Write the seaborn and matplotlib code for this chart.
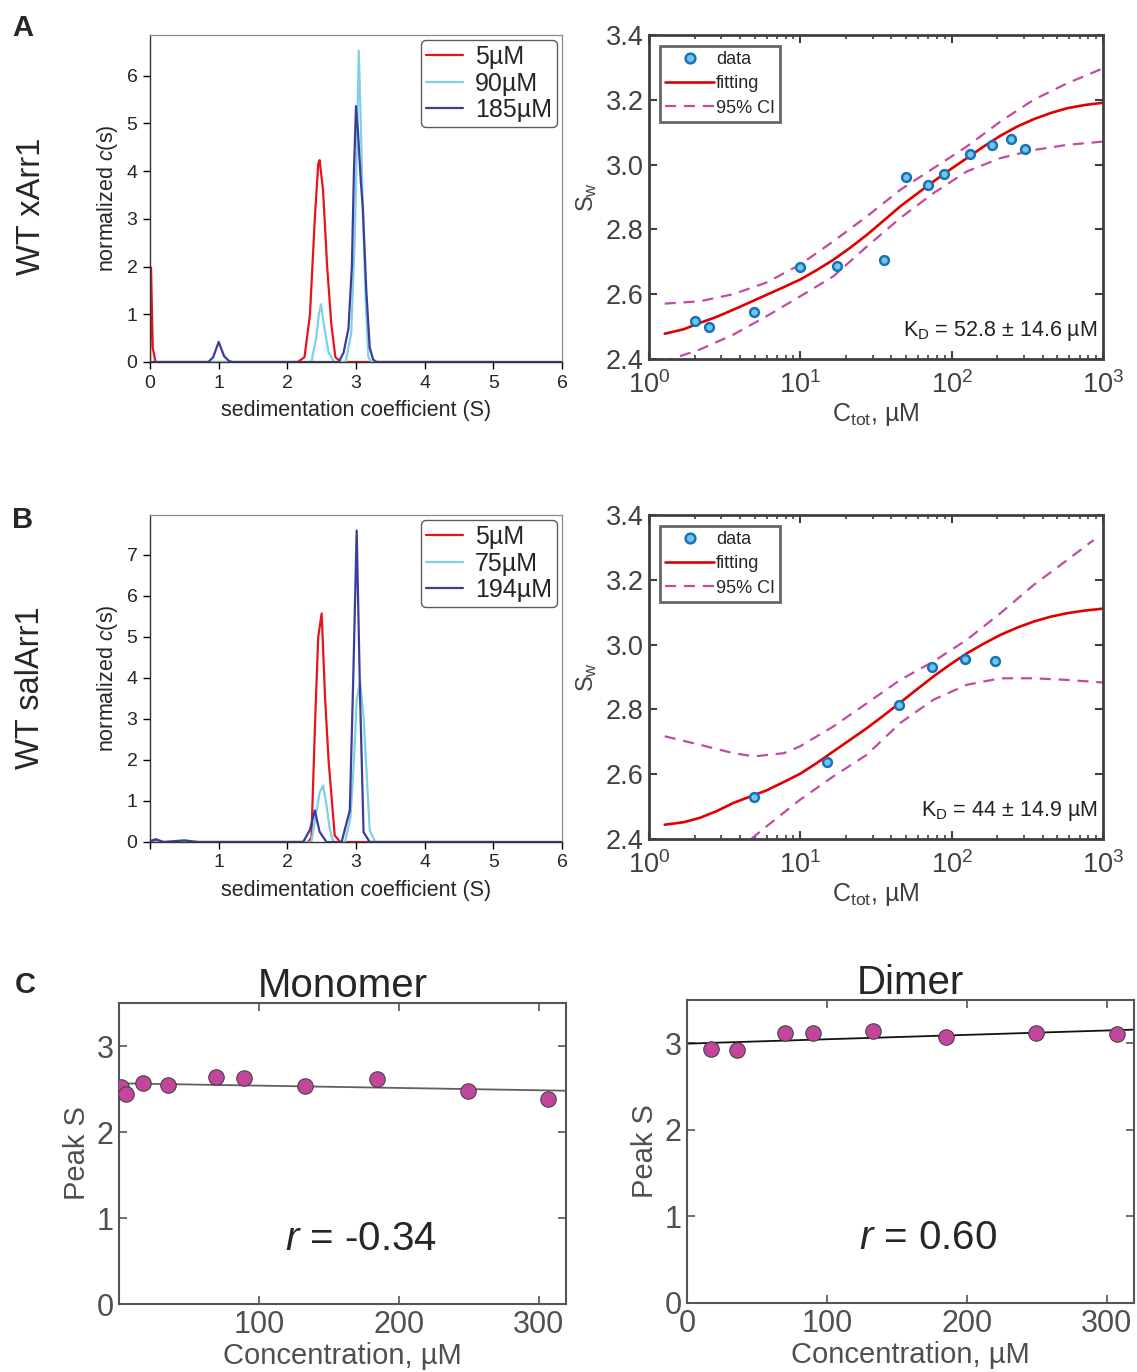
import matplotlib; matplotlib.use("Agg")
import matplotlib.pyplot as plt
from matplotlib import font_manager
import pandas as pd
import seaborn as sns
import numpy as np

# ---- panel A, c(s) distributions (xArr1) ----
a_s_5 = [0.0, 0.015, 0.04, 0.08, 2.15, 2.25, 2.33, 2.40, 2.45, 2.47, 2.52, 2.58, 2.64, 2.70, 2.78, 5.0]
a_c_5 = [0.0, 1.98, 0.3, 0.0, 0.0, 0.1, 1.0, 3.0, 4.15, 4.23, 3.6, 2.0, 0.8, 0.1, 0.0, 0.0]
a_s_90 = [0.0, 2.35, 2.42, 2.46, 2.49, 2.53, 2.60, 2.68, 2.85, 2.93, 2.98, 3.02, 3.04, 3.07, 3.10, 3.14, 3.18, 3.22, 6.0]
a_c_90 = [0.0, 0.0, 0.5, 1.0, 1.21, 0.8, 0.2, 0.0, 0.0, 0.6, 2.5, 5.0, 6.52, 5.0, 3.2, 1.3, 0.1, 0.0, 0.0]
a_s_185 = [0.0, 0.85, 0.92, 1.0, 1.08, 1.15, 1.2, 2.75, 2.82, 2.89, 2.94, 2.97, 3.0, 3.03, 3.07, 3.1, 3.15, 3.2, 3.25, 3.3, 6.0]
a_c_185 = [0.0, 0.0, 0.1, 0.42, 0.12, 0.02, 0.0, 0.0, 0.2, 0.7, 2.0, 4.0, 5.36, 4.8, 3.8, 3.2, 1.5, 0.3, 0.05, 0.0, 0.0]
a_labels = ["5\u00b5M", "90\u00b5M", "185\u00b5M"]

# ---- panel B, c(s) distributions (salArr1) ----
b_s_5 = [0.0, 0.05, 0.1, 2.3, 2.35, 2.41, 2.45, 2.5, 2.55, 2.6, 2.69, 2.77, 5.0]
b_c_5 = [0.02, 0.05, 0.0, 0.0, 0.1, 3.2, 5.0, 5.57, 3.5, 2.0, 0.16, 0.0, 0.0]
b_s_75 = [0.0, 2.35, 2.42, 2.47, 2.52, 2.57, 2.62, 2.67, 2.84, 2.92, 2.97, 3.01, 3.06, 3.11, 3.2, 3.28, 6.0]
b_c_75 = [0.0, 0.0, 0.7, 1.2, 1.38, 0.9, 0.3, 0.0, 0.0, 0.6, 2.0, 3.46, 3.9, 3.05, 0.28, 0.0, 0.0]
b_s_194 = [0.0, 0.08, 0.2, 0.5, 0.7, 2.23, 2.33, 2.4, 2.47, 2.57, 2.79, 2.91, 2.96, 3.01, 3.06, 3.11, 3.2, 6.0]
b_c_194 = [0.0, 0.07, 0.0, 0.04, 0.0, 0.0, 0.3, 0.77, 0.25, 0.0, 0.0, 0.77, 4.0, 7.59, 3.5, 0.24, 0.0, 0.0]
b_labels = ["5\u00b5M", "75\u00b5M", "194\u00b5M"]

# ---- panel A right, weight-average S vs concentration ----
a_conc = [2.0, 2.48, 4.96, 9.95, 17.4, 35.8, 49.9, 69.7, 89.4, 132, 185, 248, 304]
a_sw = [2.518, 2.498, 2.544, 2.683, 2.688, 2.706, 2.963, 2.936, 2.970, 3.032, 3.059, 3.079, 3.047]
a_fit_x = [1.27, 1.7, 2.16, 2.8, 3.6, 4.6, 5.98, 7.7, 9.95, 12.8, 16.5, 21.3, 27.5, 35.5, 45.7, 59, 75.9,
           98, 126, 163, 210, 270, 348, 450, 580, 760, 1000]
a_fit_y = [2.478, 2.492, 2.511, 2.530, 2.552, 2.574, 2.598, 2.621, 2.645, 2.674, 2.706, 2.743, 2.783,
           2.827, 2.871, 2.910, 2.948, 2.985, 3.020, 3.056, 3.089, 3.117, 3.140, 3.159, 3.174, 3.184, 3.191]
a_ciu_x = [1.27, 2.16, 3.6, 5.98, 9.95, 16.5, 27.5, 45.7, 75.9, 126, 210, 348, 580, 1000]
a_ciu_y = [2.571, 2.578, 2.600, 2.636, 2.691, 2.763, 2.840, 2.922, 2.989, 3.056, 3.133, 3.200, 3.251, 3.297]
a_cil_x = [1.22, 1.37, 2.16, 3.6, 5.98, 9.95, 16.5, 27.5, 45.7, 75.9, 126, 210, 348, 580, 1000]
a_cil_y = [2.39, 2.398, 2.429, 2.475, 2.532, 2.593, 2.655, 2.747, 2.835, 2.912, 2.979, 3.020, 3.045, 3.061, 3.071]
a_kd = "52.8 \u00b1 14.6 \u00b5M"

# ---- panel B right ----
b_conc = [4.96, 14.9, 45.0, 74.5, 123, 193]
b_sw = [2.529, 2.637, 2.814, 2.931, 2.956, 2.950]
b_fit_x = [1.27, 1.7, 2.16, 2.8, 3.6, 4.6, 5.98, 7.7, 9.95, 12.8, 16.5, 21.3, 27.5, 35.5, 45.7, 59, 75.9,
           98, 126, 163, 210, 270, 348, 450, 580, 760, 1000]
b_fit_y = [2.444, 2.452, 2.465, 2.486, 2.511, 2.530, 2.550, 2.575, 2.601, 2.634, 2.670, 2.706, 2.742,
           2.781, 2.821, 2.862, 2.902, 2.939, 2.973, 3.003, 3.030, 3.052, 3.071, 3.086, 3.097, 3.105, 3.111]
b_ciu_x = [1.27, 2.16, 3.6, 4.96, 7.8, 9.95, 16.5, 27.5, 45.7, 75.9, 126, 210, 348, 580, 868]
b_ciu_y = [2.717, 2.691, 2.665, 2.655, 2.665, 2.686, 2.747, 2.819, 2.891, 2.948, 3.015, 3.097, 3.184, 3.261, 3.323]
b_cil_x = [4.73, 5.98, 9.95, 16.5, 27.5, 45.7, 75.9, 126, 210, 348, 580, 1000]
b_cil_y = [2.40, 2.439, 2.521, 2.593, 2.660, 2.758, 2.830, 2.876, 2.896, 2.896, 2.891, 2.883]
b_kd = "44 \u00b1 14.9 \u00b5M"

# ---- panel C, peak positions ----
mono_conc = [1.4, 5.0, 17.4, 35.2, 69.5, 89.5, 132.6, 184.5, 249.3, 306.9]
mono_peak = [2.52, 2.44, 2.57, 2.55, 2.64, 2.63, 2.53, 2.62, 2.48, 2.38]
mono_line_x = [0, 320]
mono_line_y = [2.566, 2.48]
mono_r = "-0.34"
dimer_conc = [17.4, 35.7, 69.8, 90.0, 132.9, 184.8, 249.5, 307.4]
dimer_peak = [2.93, 2.92, 3.12, 3.12, 3.14, 3.07, 3.12, 3.11]
dimer_line_x = [0, 320]
dimer_line_y = [2.996, 3.158]
dimer_r = "0.60"

sns.set_style("ticks")
plt.rcParams["font.family"] = ["Liberation Sans", "DejaVu Sans"]
plt.rcParams["mathtext.fontset"] = "custom"
plt.rcParams["mathtext.rm"] = "Liberation Sans"
plt.rcParams["mathtext.it"] = "Liberation Sans:italic"
names = {f.name for f in font_manager.fontManager.ttflist}
NARROW = "Liberation Sans Narrow" if "Liberation Sans Narrow" in names else "Liberation Sans"

W, H = 1137, 1372
fig = plt.figure(figsize=(W / 100, H / 100), dpi=100)


def box(x0, y0, x1, y1):
    return [x0 / W, 1 - y1 / H, (x1 - x0) / W, (y1 - y0) / H]


RED, CYAN, NAVY = "#e8141b", "#7fd0e4", "#3a3d9c"
GRAY = "#404040"
PINK = "#c24b9f"
DASH = (0, (5, 3.5))


def cs_panel(rect, curves, labels, ymax, yticks, zero_label=True):
    ax = fig.add_axes(rect)
    for (s, c), col, lab in zip(curves, [RED, CYAN, NAVY], labels):
        df = pd.DataFrame({"s": s, "c": c})
        sns.lineplot(data=df, x="s", y="c", color=col, lw=1.6, label=lab,
                     estimator=None, sort=False, ax=ax)
    ax.set_xlim(0, 6)
    ax.set_ylim(0, ymax)
    ax.set_xticks(range(7))
    ax.set_xticklabels([("0" if zero_label else "")] + [str(i) for i in range(1, 7)])
    ax.set_yticks(yticks)
    ax.tick_params(direction="out", length=5, width=1, labelsize=14, color="black", pad=4)
    for sp in ["top", "right"]:
        ax.spines[sp].set_color("#8a8a8a")
        ax.spines[sp].set_linewidth(0.9)
    for sp in ["left", "bottom"]:
        ax.spines[sp].set_color("#333333")
        ax.spines[sp].set_linewidth(1.0)
    ax.set_xlabel("sedimentation coefficient (S)", fontsize=15.5, labelpad=6)
    ax.set_ylabel(r"normalized $c$(s)", fontsize=15.5, labelpad=5)
    leg = ax.legend(loc="upper right", fontsize=18, frameon=True, fancybox=True,
                    borderpad=0.2, labelspacing=0.1, handlelength=1.45,
                    handletextpad=0.5, borderaxespad=0.2)
    leg.get_frame().set_edgecolor("#333333")
    leg.get_frame().set_linewidth(1.0)
    return ax


def sw_panel(rect, conc, sw, fx, fy, cux, cuy, clx, cly, kd):
    ax = fig.add_axes(rect)
    ax.set_xscale("log")
    sns.lineplot(x=fx, y=fy, color="#e00000", lw=1.9, estimator=None, sort=False,
                 ax=ax, zorder=2)
    sns.lineplot(x=cux, y=cuy, color=PINK, lw=1.6, estimator=None, sort=False,
                 ax=ax, zorder=2, linestyle=DASH)
    sns.lineplot(x=clx, y=cly, color=PINK, lw=1.6, estimator=None, sort=False,
                 ax=ax, zorder=2, linestyle=DASH)
    sns.scatterplot(x=conc, y=sw, s=40, color="#72c7e8", edgecolor="#1872b8",
                    linewidth=1.8, ax=ax, zorder=3)
    ax.set_xlim(1, 1000)
    ax.set_ylim(2.4, 3.4)
    ax.set_yticks(np.arange(2.4, 3.41, 0.2))
    ax.set_yticklabels([f"{v:.1f}" for v in np.arange(2.4, 3.41, 0.2)])
    ax.tick_params(which="both", direction="in", top=True, right=True,
                   color=GRAY, labelcolor=GRAY, labelsize=19.5)
    ax.tick_params(axis="y", pad=4)
    ax.tick_params(axis="x", pad=9)
    ax.tick_params(which="major", length=6, width=1.5)
    ax.tick_params(which="minor", length=3, width=1.2)
    for sp in ax.spines.values():
        sp.set_color(GRAY)
        sp.set_linewidth(2.0)
    ax.set_xlabel("C$_\\mathregular{tot}$, \u00b5M", fontsize=18, color=GRAY, labelpad=1)
    ax.set_ylabel(r"S$_\mathregular{w}$", fontsize=17, color=GRAY, labelpad=5)
    h = [plt.Line2D([], [], ls="none", marker="o", ms=7, mfc="#72c7e8", mec="#1872b8", mew=1.8),
         plt.Line2D([], [], color="#e00000", lw=1.9),
         plt.Line2D([], [], color=PINK, lw=1.6, ls=DASH)]
    leg = ax.legend(h, ["data", "fitting", "95% CI"], loc="upper left", fontsize=13,
                    frameon=True, fancybox=False, borderpad=0.3, labelspacing=0.4,
                    handlelength=2.7, handletextpad=0.1, borderaxespad=0.6)
    leg.get_frame().set_edgecolor(GRAY)
    leg.get_frame().set_linewidth(2.0)
    ax.text(0.987, 0.085, r"K$_\mathregular{D}$ = " + kd, transform=ax.transAxes,
            ha="right", va="center", fontsize=15.5, color="#222222")
    return ax


def peak_panel(rect, conc, peak, lx, ly, lcol, title, rtxt, xticks):
    ax = fig.add_axes(rect)
    sns.lineplot(x=lx, y=ly, color=lcol, lw=1.3, estimator=None, ax=ax, zorder=2)
    sns.scatterplot(x=conc, y=peak, s=125, color="#c2479c", edgecolor="#3a3a3a",
                    linewidth=0.7, ax=ax, zorder=3)
    ax.set_xlim(0, 319.5)
    ax.set_ylim(0, 3.5)
    ax.set_xticks(xticks)
    ax.set_yticks([0, 1, 2, 3])
    ax.tick_params(direction="in", top=True, right=True, length=6, width=1.2,
                   color="#555555", labelcolor="#505050", labelsize=22, pad=4)
    for lab in ax.get_xticklabels() + ax.get_yticklabels():
        lab.set_family([NARROW, "DejaVu Sans"])
    for sp in ax.spines.values():
        sp.set_color("#555555")
        sp.set_linewidth(1.5)
    ax.set_xlabel("Concentration, \u00b5M", fontsize=21, color="#505050",
                  family=[NARROW, "DejaVu Sans"], labelpad=2)
    ax.set_ylabel("Peak S", fontsize=21, color="#505050",
                  family=[NARROW, "DejaVu Sans"], labelpad=4)
    ax.set_title(title, fontsize=29, family=[NARROW, "DejaVu Sans"], pad=4)
    ax.text(0.54, 0.215, r"$r$ = " + rtxt, transform=ax.transAxes, ha="center",
            va="center", fontsize=29)
    return ax


cs_panel(box(150, 35, 562, 362), [(a_s_5, a_c_5), (a_s_90, a_c_90), (a_s_185, a_c_185)],
         a_labels, 6.85, range(7))
cs_panel(box(150, 515, 562, 842), [(b_s_5, b_c_5), (b_s_75, b_c_75), (b_s_194, b_c_194)],
         b_labels, 7.97, range(8), zero_label=False)
sw_panel(box(649, 35, 1103, 359), a_conc, a_sw, a_fit_x, a_fit_y, a_ciu_x, a_ciu_y,
         a_cil_x, a_cil_y, a_kd)
sw_panel(box(649, 515, 1103, 839), b_conc, b_sw, b_fit_x, b_fit_y, b_ciu_x, b_ciu_y,
         b_cil_x, b_cil_y, b_kd)
peak_panel(box(119, 1003, 566, 1304), mono_conc, mono_peak, mono_line_x, mono_line_y,
           "#606060", "Monomer", mono_r, [100, 200, 300])
peak_panel(box(687, 1000, 1134, 1303), dimer_conc, dimer_peak, dimer_line_x, dimer_line_y,
           "#111111", "Dimer", dimer_r, [0, 100, 200, 300])

fig.text(31 / W, 1 - 206 / H, "WT xArr1", rotation=90, ha="center", va="center", fontsize=23.5)
fig.text(31 / W, 1 - 688 / H, "WT salArr1", rotation=90, ha="center", va="center", fontsize=23.5)
for lab, (x, y) in {"A": (23, 28), "B": (23, 520), "C": (25, 985)}.items():
    fig.text(x / W, 1 - y / H, lab, ha="center", va="center", fontsize=21, fontweight="bold")

fig.savefig("out.png", dpi=100)
plt.close(fig)
